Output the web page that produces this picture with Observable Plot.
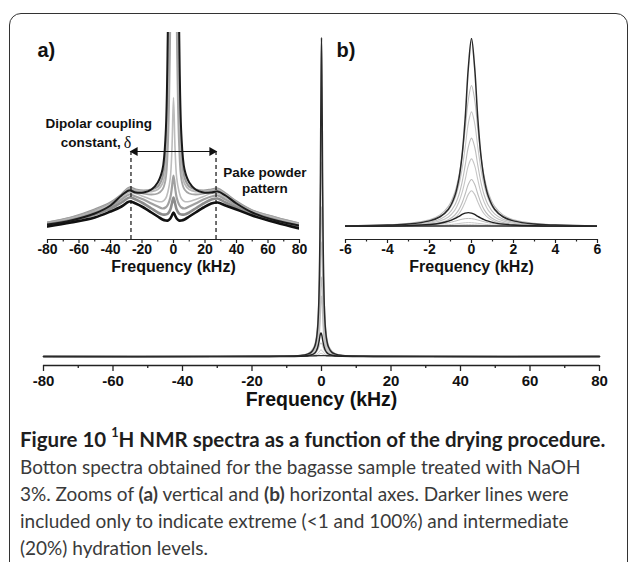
<!DOCTYPE html>
<html><head><meta charset="utf-8">
<script src="https://cdn.jsdelivr.net/npm/d3@7"></script>
<script src="https://cdn.jsdelivr.net/npm/@observablehq/plot@0.6"></script>
<style>
body{margin:0;background:#fff;}
#wrap{position:relative;width:629px;height:562px;overflow:hidden;background:#fff;font-family:"Liberation Sans",Arial,sans-serif;}
#box{position:absolute;left:9px;top:13px;width:619px;height:620px;border:1.6px solid #333;border-radius:12px;box-sizing:border-box;}
.layer{position:absolute;top:0;}
.layer svg{background:transparent;overflow:visible;}
#caption{position:absolute;left:20px;top:426px;font-family:Lato,"Open Sans",sans-serif;font-size:19px;line-height:27px;color:#3a3a3a;white-space:nowrap;}
#caption .t{font-weight:bold;color:#1e1e1e;font-size:20.5px;}
#caption sup{font-size:0.62em;line-height:0;vertical-align:0.75em;}
</style></head>
<body>
<div id="wrap">
  <div id="box"></div>
  <div id="main" class="layer" style="left:0"></div>
  <div id="insetA" class="layer" style="left:0"></div>
  <div id="insetB" class="layer" style="left:300px"></div>
  <div id="caption"><span class="t">Figure 10 <sup>1</sup>H NMR spectra as a function of the drying procedure.</span><br>Botton spectra obtained for the bagasse sample treated with NaOH<br>3%. Zooms of <b>(a)</b> vertical and <b>(b)</b> horizontal axes. Darker lines were<br>included only to indicate extreme (&lt;1 and 100%) and intermediate<br>(20%) hydration levels.</div>
</div>
<script>
// ---------- Data: narrow-line spectra (main plot and inset b), intensity in % of the 100% peak ----------
const xB = [-80,-30,-12,-6,-4,-3,-2,-1.5,-1.1,-0.8,-0.6,-0.45,-0.3,-0.15,0,0.15,0.3,0.45,0.6,0.8,1.1,1.5,2,3,4,6,12,30,80];
const hyd100 = [0,0.01,0.08,0.34,0.76,1.3,3.0,5.2,9.2,16.1,25.4,37.7,57.6,84.5,100,84.5,57.6,37.7,25.4,16.1,9.2,5.2,3.0,1.3,0.76,0.34,0.08,0.01,0];
const grayA = [0,0,0.1,0.4,0.9,1.7,3.6,6.2,10.7,18,27,37.5,51.9,67.5,75,67.5,51.9,37.5,27,18,10.7,6.2,3.6,1.7,0.9,0.4,0.1,0,0];
const grayB = [0,0,0.1,0.3,0.8,1.3,2.9,5.1,8.7,14.6,22,30.5,42.2,54.9,61,54.9,42.2,30.5,22,14.6,8.7,5.1,2.9,1.3,0.8,0.3,0.1,0,0];
const grayC = [0,0,0.1,0.3,0.6,1.0,2.3,3.9,6.7,11.3,16.9,23.5,32.5,42.3,47,42.3,32.5,23.5,16.9,11.3,6.7,3.9,2.3,1.0,0.6,0.3,0.1,0,0];
const grayD = [0,0,0.05,0.2,0.45,0.8,1.7,3.0,5.1,8.6,13,18,24.9,32.4,36,32.4,24.9,18,13,8.6,5.1,3.0,1.7,0.8,0.45,0.2,0.05,0,0];
const grayE = [0,0,0.04,0.14,0.3,0.55,1.2,2.1,3.6,6,9,12.5,17.3,22.5,25,22.5,17.3,12.5,9,6,3.6,2.1,1.2,0.55,0.3,0.14,0.04,0,0];
const grayF = [0,0,0.03,0.1,0.24,0.4,0.9,1.6,2.7,4.6,6.8,9.5,13.1,17.1,19,17.1,13.1,9.5,6.8,4.6,2.7,1.6,0.9,0.4,0.24,0.1,0.03,0,0];
const hyd20 = [0,0,0.03,0.12,0.27,0.48,1.05,1.75,2.85,4.2,5.4,6.4,7.1,7.4,7.1,6.4,5.4,4.5,3.7,2.85,1.96,1.27,0.8,0.4,0.23,0.1,0.03,0,0];
const grayG = [0,0.01,0.02,0.1,0.22,0.39,0.83,1.32,2.0,2.8,3.44,3.9,4.2,4.3,4.2,3.9,3.44,3.0,2.54,2.0,1.47,0.99,0.64,0.32,0.19,0.09,0.02,0,0];
const grayH = [0,0,0.01,0.06,0.12,0.2,0.42,0.65,0.95,1.3,1.6,1.85,2.0,2.1,2.05,1.9,1.7,1.5,1.28,1.0,0.75,0.52,0.34,0.17,0.1,0.05,0.01,0,0];
const grayI = [0,0,0.01,0.03,0.06,0.1,0.2,0.32,0.46,0.62,0.76,0.88,0.96,1.0,0.98,0.92,0.82,0.72,0.62,0.5,0.37,0.26,0.17,0.09,0.05,0.02,0.01,0,0];
const hydDry = [0,0.05,0.1,0.15,0.2,0.22,0.25,0.27,0.28,0.3,0.3,0.3,0.3,0.3,0.3,0.3,0.3,0.3,0.3,0.3,0.28,0.27,0.25,0.22,0.2,0.15,0.1,0.05,0];

// ---------- Data: broad (Pake) spectra, inset a, vertically zoomed (arbitrary units) ----------
const xA = [-80,-65,-50,-40,-33,-28,-24,-19,-14,-10,-7,-5,-3.5,-2,-1,0,1,2,3.5,5,7,10,14,19,24,28,33,40,50,65,80];
const aDry = [13,17,22,28,33,38,36,32,27,23,20,19,19,21,24,27,24,21,19,19,20,23,27,32,36,37,34,30,24,17,11];
const aG1 = [15,19,25,31,37,42,40,36,31,27,25,25,26,30,36,42,36,30,26,25,25,27,31,36,40,41,37,32,26,19,13];
const aG2 = [16,20,27,33,40,45,43,40,36,33,31,32,35,42,52,64,52,42,35,32,31,33,36,40,43,44,40,34,27,20,14];
const aG3 = [16,21,28,35,42,47,46,43,40,38,38,41,48,62,90,142,90,62,48,41,38,38,40,43,46,46,42,36,28,21,15];
const aG4 = [17,22,29,36,44,50,48,46,45,46,50,60,95,215,350,420,350,215,95,60,50,46,45,46,48,49,44,37,29,22,16];
const aG5 = [16,21,29,36,44,51,49,48,48,50,56,70,120,260,420,500,420,260,120,70,56,50,48,48,49,50,45,37,28,21,15];
const aG6 = [17,22,30,37,45,52,50,49,50,53,62,85,160,330,500,600,500,330,160,85,62,53,50,49,50,51,46,38,29,22,16];
const aWet = [15,19,26,34,44,49,47,47,50,57,70,105,220,400,600,700,600,400,220,105,70,57,50,47,47,48,44,36,27,19,14];

// ---------- Axis ticks & annotations ----------
const mainTicks = [-80,-60,-40,-20,0,20,40,60,80];
const mainMinor = [-70,-50,-30,-10,10,30,50,70];
const bTicks = [-6,-4,-2,0,2,4,6];
const bMinor = [-5,-3,-1,1,3,5];
const deltaMarks = [-27, 27];
const deltaLevel = 88;
const annotA = [
  {text: "Dipolar coupling", x: -47.5, y: 116},
  {text: "Pake powder", x: 58, y: 67},
  {text: "pattern", x: 58, y: 51}
];
const annotConst = [{text: "constant,", x: -47.5, y: 97}];
const annotDelta = [{text: "δ", x: -47.5, y: 97}];
const axisLabel = "Frequency (kHz)";

// ---------- build tables ----------
const narrowSeries = [
  {v: grayI, stroke: "#c8c8c8", w: 1},
  {v: grayH, stroke: "#c8c8c8", w: 1},
  {v: grayG, stroke: "#bdbdbd", w: 1},
  {v: grayF, stroke: "#c4c4c4", w: 1.1},
  {v: grayE, stroke: "#bcbcbc", w: 1.1},
  {v: grayD, stroke: "#c6c6c6", w: 1.1},
  {v: grayC, stroke: "#bdbdbd", w: 1.1},
  {v: grayB, stroke: "#c6c6c6", w: 1.1},
  {v: grayA, stroke: "#bbbbbb", w: 1.1},
  {v: hydDry, stroke: "#333", w: 1.4},
  {v: hyd20, stroke: "#222", w: 1.4},
  {v: hyd100, stroke: "#2a2a2a", w: 1.5}
].map(s => ({...s, rows: xB.map((x, i) => ({x, y: s.v[i]}))}));

const broadSeries = [
  {v: aG6, stroke: "#9a9a9a", w: 2.2},
  {v: aG5, stroke: "#b8b8b8", w: 1.8},
  {v: aG4, stroke: "#a5a5a5", w: 1.8},
  {v: aG3, stroke: "#bdbdbd", w: 1.6},
  {v: aG2, stroke: "#a0a0a0", w: 2.2},
  {v: aG1, stroke: "#8c8c8c", w: 2.6},
  {v: aWet, stroke: "#1a1a1a", w: 2},
  {v: aDry, stroke: "#111", w: 2.6}
].map(s => ({...s, rows: xA.map((x, i) => ({x, y: s.v[i]}))}));

const font = "Liberation Sans, Arial, sans-serif";

// ---------- main plot ----------
const mainYmin = -2.8;
const main = Plot.plot({
  width: 629, height: 420,
  marginLeft: 43, marginRight: 30, marginTop: 37, marginBottom: 55,
  style: {background: "transparent", overflow: "visible", fontFamily: font},
  x: {domain: [-80, 80], axis: null},
  y: {domain: [mainYmin, 100], axis: null},
  marks: [
    ...narrowSeries.map(s => Plot.line(s.rows, {x: "x", y: "y", stroke: s.stroke, strokeWidth: s.w, curve: "catmull-rom"})),
    Plot.ruleY([mainYmin], {stroke: "#222", strokeWidth: 1.3}),
    Plot.axisX({ticks: mainTicks, tickSize: 6, tickPadding: 4, fontSize: 15, fontWeight: "bold", tickFormat: d => String(d), label: null, stroke: "#222", strokeWidth: 1.3, fill: "#111"}),
    Plot.axisX({ticks: mainMinor, tickSize: 3, tickFormat: () => "", label: null, stroke: "#222", strokeWidth: 1.3}),
    Plot.text([axisLabel], {text: d => d, frameAnchor: "bottom", dy: 34, lineAnchor: "middle", fontSize: 19.5, fontWeight: "bold", fill: "#111"})
  ]
});
document.getElementById("main").appendChild(main);

// ---------- inset a ----------
const insetA = Plot.plot({
  width: 330, height: 275,
  marginLeft: 47, marginRight: 31, marginTop: 32, marginBottom: 36,
  style: {background: "transparent", overflow: "visible", fontFamily: font},
  x: {domain: [-80, 80], axis: null},
  y: {domain: [0, 207], axis: null},
  marks: [
    ...broadSeries.map(s => Plot.line(s.rows, {x: "x", y: "y", stroke: s.stroke, strokeWidth: s.w, curve: "catmull-rom", clip: true})),
    Plot.ruleX(deltaMarks, {y1: 0, y2: 90, stroke: "#111", strokeWidth: 1.2, strokeDasharray: "4,3"}),
    Plot.link([{a: deltaMarks[0], b: deltaMarks[1]}], {x1: "a", x2: "b", y1: deltaLevel, y2: deltaLevel, stroke: "#111", strokeWidth: 1.2}),
    Plot.dot([deltaMarks[0]], {x: d => d, y: deltaLevel, symbol: "triangle", rotate: -90, r: 3.4, dx: 4, fill: "#111", stroke: null}),
    Plot.dot([deltaMarks[1]], {x: d => d, y: deltaLevel, symbol: "triangle", rotate: 90, r: 3.4, dx: -4, fill: "#111", stroke: null}),
    Plot.text(annotA, {x: "x", y: "y", text: "text", fontSize: 13.5, fontWeight: "bold", fill: "#111"}),
    Plot.text(annotConst, {x: "x", y: "y", text: "text", dx: 22, textAnchor: "end", fontSize: 13.5, fontWeight: "bold", fill: "#111"}),
    Plot.text(annotDelta, {x: "x", y: "y", text: "text", dx: 25, textAnchor: "start", fontSize: 16, fontFamily: "Liberation Serif, Times New Roman, serif", fill: "#111"}),
    Plot.text(["a)"], {text: d => d, frameAnchor: "top-left", dx: -10, dy: 24, lineAnchor: "bottom", textAnchor: "start", fontSize: 20, fontWeight: "bold", fill: "#111"}),
    Plot.ruleY([0], {stroke: "#222", strokeWidth: 1.2}),
    Plot.axisX({ticks: mainTicks, tickSize: 4, tickPadding: 1, fontSize: 14, fontWeight: "bold", tickFormat: d => String(d), label: null, stroke: "#222", strokeWidth: 1.2, fill: "#111"}),
    Plot.axisX({ticks: mainMinor, tickSize: 2.5, tickFormat: () => "", label: null, stroke: "#222", strokeWidth: 1.2}),
    Plot.text([axisLabel], {text: d => d, frameAnchor: "bottom", dy: 27, lineAnchor: "middle", fontSize: 16, fontWeight: "bold", fill: "#111"})
  ]
});
document.getElementById("insetA").appendChild(insetA);

// ---------- inset b ----------
const bYmin = -6.9;
const insetB = Plot.plot({
  width: 329, height: 275,
  marginLeft: 45, marginRight: 32, marginTop: 38, marginBottom: 36,
  style: {background: "transparent", overflow: "visible", fontFamily: font},
  x: {domain: [-6, 6], axis: null},
  y: {domain: [bYmin, 100], axis: null},
  marks: [
    ...narrowSeries.map(s => Plot.line(s.rows, {x: "x", y: "y", stroke: s.stroke, strokeWidth: s.w, curve: "catmull-rom", clip: true})),
    Plot.text(["b)"], {text: d => d, frameAnchor: "top-left", dx: -9, dy: 18, lineAnchor: "bottom", textAnchor: "start", fontSize: 20, fontWeight: "bold", fill: "#111"}),
    Plot.ruleY([bYmin], {stroke: "#222", strokeWidth: 1.2}),
    Plot.axisX({ticks: bTicks, tickSize: 4, tickPadding: 1, fontSize: 14, fontWeight: "bold", tickFormat: d => String(d), label: null, stroke: "#222", strokeWidth: 1.2, fill: "#111"}),
    Plot.axisX({ticks: bMinor, tickSize: 2.5, tickFormat: () => "", label: null, stroke: "#222", strokeWidth: 1.2}),
    Plot.text([axisLabel], {text: d => d, frameAnchor: "bottom", dy: 27, lineAnchor: "middle", fontSize: 16, fontWeight: "bold", fill: "#111"})
  ]
});
document.getElementById("insetB").appendChild(insetB);
</script>
</body></html>
